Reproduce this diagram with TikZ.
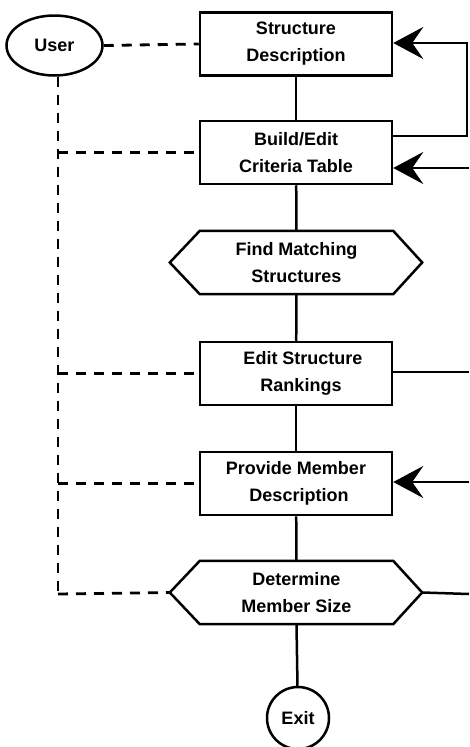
\documentclass[tikz,border=0pt]{standalone}
\usepackage{fontspec}
\setmainfont{Liberation Sans}
\usetikzlibrary{shapes.geometric,arrows.meta,calc}
\tikzset{
  box/.style={draw,line width=2.5pt,minimum width=192pt,minimum height=63pt,inner sep=0pt,align=center},
  hexbody/.style={minimum width=193pt,minimum height=63pt,inner sep=0pt,align=center},
  hexline/.style={line width=2.5pt,line join=miter},
  lbl/.style={font=\fontsize{18}{27}\selectfont\bfseries},
  solidline/.style={line width=2.5pt},
  dashline/.style={line width=2.8pt,dash pattern=on 10pt off 8pt},
  fb/.style={line width=2.5pt,-{Stealth[length=30pt,width=32pt,inset=11pt]}},
}
\begin{document}
\begin{tikzpicture}[x=1pt,y=-1pt]
\useasboundingbox (0,0) rectangle (469,747);
% nodes
\node[draw,ellipse,line width=2.5pt,minimum width=96pt,minimum height=60pt,lbl] (user) at (54.5,45.5) {User};
\node[box,lbl] (sd) at (296,44) {Structure\\Description};
\node[box,lbl] (bect) at (296,152.5) {Build/Edit\\Criteria Table};
\node[hexbody,lbl] (fms) at (296.5,262.5) {Find Matching\\Structures};
\node[box,lbl] (esr) at (296,373.5) {\hspace*{14pt}Edit Structure\\\hspace*{10pt}Rankings};
\node[box,lbl] (pmd) at (296,483.5) {Provide Member\\\hspace*{6pt}Description};
\node[hexbody,lbl] (dms) at (296.5,592.5) {Determine\\Member Size};
\node[draw,circle,line width=2.5pt,minimum size=62pt,inner sep=0pt,lbl] (exit) at (298,718) {Exit};
% hexagon outlines
\coordinate (fmsW) at ($(fms.west)+(-30,0)$);
\coordinate (fmsE) at ($(fms.east)+(29,0)$);
\coordinate (dmsW) at ($(dms.west)+(-30,0)$);
\coordinate (dmsE) at ($(dms.east)+(29,0)$);
\draw[hexline] (fms.north west) -- (fms.north east) -- (fmsE) -- (fms.south east) -- (fms.south west) -- (fmsW) -- cycle;
\draw[hexline] (dms.north west) -- (dms.north east) -- (dmsE) -- (dms.south east) -- (dms.south west) -- (dmsW) -- cycle;
% main flow
\draw[solidline] (sd) -- (bect);
\draw[solidline] (bect) -- (fms.north);
\draw[solidline] (fms.south) -- (esr);
\draw[solidline] (esr) -- (pmd);
\draw[solidline] (pmd) -- (dms.north);
\draw[solidline] (dms.south) -- (exit);
% user dashed links
\coordinate (ucorner) at (58,594);
\draw[dashline] (user.east) -- (sd.west);
\draw[dashline] (user.south -| ucorner) -- (ucorner);
\draw[dashline] (ucorner) -- (dmsW);
\draw[dashline] (bect.west -| ucorner) -- (bect.west);
\draw[dashline] (esr.west -| ucorner) -- (esr.west);
\draw[dashline] (pmd.west -| ucorner) -- (pmd.west);
% right-side feedback lines
\coordinate (r1) at (467,43);
\coordinate (r2) at (467,136);
\coordinate (r3) at (469,168);
\coordinate (r4) at (469,372);
\coordinate (r5) at (469,482);
\coordinate (r6) at (469,594);
\draw[fb] (r2 -| bect.east) -- (r2) -- (r1) -- (r1 -| sd.east);
\draw[fb] (r3) -- (r3 -| bect.east);
\draw[solidline] (r4 -| esr.east) -- (r4);
\draw[fb] (r5) -- (r5 -| pmd.east);
\draw[solidline] (dmsE) -- (r6);
\end{tikzpicture}
\end{document}
